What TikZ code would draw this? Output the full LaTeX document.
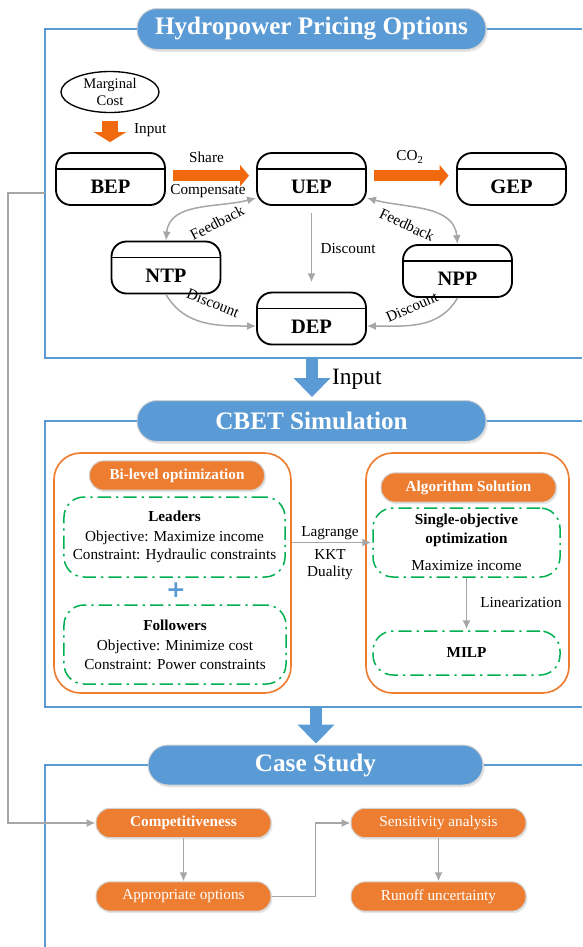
\documentclass[tikz,border=0pt]{standalone}
\usepackage{fontspec}
\setmainfont{Liberation Serif}
\newfontfamily\plusfont{DejaVu Sans}
\usetikzlibrary{shapes.geometric,arrows.meta,shadows}
\definecolor{pillblue}{RGB}{91,155,213}
\definecolor{tagorange}{RGB}{237,125,49}
\definecolor{arroworange}{RGB}{240,105,15}
\definecolor{dashgreen}{RGB}{0,176,80}
\definecolor{linkgray}{RGB}{166,166,166}
\newcommand{\price}[3]{\node[price] (#1) at (#2) {#3}}
\newcommand{\chip}[4]{\node[chip,#4] (#1) at (#2) {#3}}
\newcommand{\note}[3]{\node[lbl,rotate=#2] at (#1) {#3}}
\tikzset{
  title/.style={fill=pillblue, draw=gray!35, line width=0.3mm, rounded corners=6mm,
    minimum width=104.7mm, minimum height=12.3mm, text=white,
    font=\fontsize{21.5}{24}\selectfont\bfseries,
    drop shadow={shadow xshift=0.5mm, shadow yshift=-0.7mm, opacity=0.2}},
  frame/.style={draw=pillblue, line width=0.5mm},
  price/.style={draw, line width=0.55mm, rounded corners=4.5mm,
    minimum width=32.7mm, minimum height=15.6mm, text height=8.9mm, text depth=0pt,
    font=\fontsize{17.5}{20}\selectfont\bfseries,
    path picture={\draw[line width=0.55mm]
      ([yshift=-4.8mm]path picture bounding box.north west) --
      ([yshift=-4.8mm]path picture bounding box.north east);}},
  lbl/.style={font=\fontsize{13}{15}\selectfont},
  chip/.style={fill=tagorange, draw=gray!35, line width=0.3mm, rounded corners=4.2mm,
    minimum width=52.5mm, minimum height=8.8mm, text=white,
    font=\fontsize{13}{15}\selectfont,
    drop shadow={shadow xshift=0.4mm, shadow yshift=-0.6mm, opacity=0.2}},
  group/.style={draw=tagorange, line width=0.5mm, rounded corners=8mm},
  dashbox/.style={draw=dashgreen, line width=0.45mm, rounded corners=6mm,
    dash pattern=on 4mm off 1.5mm on 0.7mm off 1.5mm, align=center,
    font=\fontsize{13}{16}\selectfont},
  orangearrow/.style={draw=arroworange, line width=3.45mm,
    -{Triangle[width=6.3mm,length=2.7mm]}},
  bluearrow/.style={draw=pillblue, line width=3.6mm,
    -{Triangle[width=10.8mm,length=5.7mm]}},
  link/.style={draw=linkgray, line width=0.45mm, -{Latex[length=2.7mm,width=2.4mm]}},
  twoway/.style={link, {Latex[length=2.7mm,width=2.4mm]}-{Latex[length=2.7mm,width=2.4mm]}}
}
\begin{document}
\begin{tikzpicture}[x=0.3mm,y=-0.3mm]
\useasboundingbox (0,0) rectangle (582,947);
%Pricing options
	\node[title] (hpo) at (311.5,29) {Hydropower Pricing Options};
	\draw[frame] (hpo.west) -| (45,358) -- (582,358);
	\draw[frame] (hpo.east) -- (582,29);
	\node[draw, line width=0.4mm, ellipse, minimum width=29.4mm, minimum height=12.3mm,
	  inner sep=0pt, align=center, font=\fontsize{12.5}{15}\selectfont] (mc) at (110,92) {Marginal\\Cost};
	\price{bep}{110.5,179}{BEP};
	\price{uep}{311.5,179}{UEP};
	\price{gep}{511.5,179}{GEP};
	\price{ntp}{166,267.5}{NTP};
	\price{npp}{457.5,271}{NPP};
	\price{dep}{311.5,318.5}{DEP};
%Orange arrows
	\draw[draw=arroworange, line width=4.8mm, -{Triangle[width=9.6mm,length=3mm]},
	  shorten <=2.25mm, shorten >=3mm] (mc) -- (mc |- bep.north);
	\node[lbl, anchor=west] at (130,130) {Input};
	\draw[orangearrow, shorten <=2.25mm, shorten >=2.1mm]
	  ([yshift=1mm]bep.east) -- ([yshift=1mm]uep.west);
	\note{206.5,157}{0}{Share};
	\note{208,191}{0}{Compensate};
	\draw[orangearrow, shorten <=2.1mm, shorten >=2.25mm]
	  ([yshift=1mm]uep.east) -- ([yshift=1mm]gep.west);
	\note{410,157}{0}{CO\textsubscript{2}};
%Gray links
	\draw[link, shorten <=2.1mm, shorten >=2.8mm] (uep) -- (dep);
	\note{348,249}{0}{Discount};
	\draw[twoway] (ntp.north) to[out=85,in=195] ([yshift=-5.7mm]uep.west);
	\note{217,223}{27}{Feedback};
	\draw[twoway] ([yshift=-5.7mm]uep.east) to[out=-15,in=95] (npp.north);
	\note{407,225}{-25}{Feedback};
	\draw[link] (ntp.south) to[out=-60,in=180] ([yshift=-2.25mm]dep.west);
	\note{213,303}{-22}{Discount};
	\draw[link] (npp.south) to[out=-120,in=0] ([yshift=-2.25mm]dep.east);
	\note{412,307}{24}{Discount};
%CBET simulation
	\coordinate (f1) at (312,358);
	\node[title] (cbet) at (311.5,421) {CBET Simulation};
	\draw[bluearrow, shorten >=0.9mm] (f1) -- (f1 |- cbet.north);
	\node[font=\fontsize{20}{24}\selectfont, anchor=west] at (328,379) {Input};
	\draw[frame] (cbet.west) -| (45,707) -- (582,707);
	\draw[frame] (cbet.east) -- (582,421);
	\node[group, minimum width=71.1mm, minimum height=72mm] (bilevel) at (172.5,573) {};
	\node[group, minimum width=60.9mm, minimum height=72mm] (algo) at (467.5,573) {};
	\chip{bltag}{177,475.5}{\bfseries Bi-level optimization}{};
	\chip{algtag}{468.5,487.5}{\bfseries Algorithm Solution}{};
	\node[dashbox, minimum width=66.3mm, minimum height=24mm] (lead) at (174.5,537)
	  {\textbf{Leaders}\\[1pt] Objective: Maximize income\\ Constraint: Hydraulic constraints};
	\node[text=pillblue, font=\fontsize{20}{20}\plusfont\bfseries] (plus) at (176,590) {+};
	\node[dashbox, minimum width=66.6mm, minimum height=23.7mm] (follow) at (175,644.5)
	  {\textbf{Followers}\\[1pt] Objective: Minimize cost\\ Constraint: Power constraints};
	\node[dashbox, minimum width=56.1mm, minimum height=20.7mm] (single) at (466.5,542.5)
	  {\fontsize{13}{13.6}\selectfont\textbf{Single-objective}\\ \textbf{optimization}\\[7pt] Maximize income};
	\node[dashbox, minimum width=56.1mm, minimum height=13.2mm] (milp) at (466.5,653) {\textbf{MILP}};
	\draw[link, shorten >=0.3mm] (bilevel.east |- single.west) -- (single.west);
	\note{330,533}{0}{Lagrange};
	\note{330,555}{0}{KKT};
	\note{330,573}{0}{Duality};
	\draw[link, shorten >=0.3mm] (single) -- (milp);
	\note{521,603}{0}{Linearization};
%Case study
	\coordinate (f2) at (316,707);
	\node[title, minimum width=100.5mm, minimum height=12mm] (case) at (315.5,765) {Case Study};
	\draw[bluearrow, shorten >=0.3mm] (f2) -- (f2 |- case.north);
	\draw[frame] (case.west) -| (45,947);
	\draw[frame] (case.east) -- (582,765);
	\chip{comp}{183.5,823}{\bfseries Competitiveness}{};
	\chip{appr}{183.5,896.5}{Appropriate options}{};
	\chip{sens}{438.5,823}{Sensitivity analysis}{};
	\chip{runoff}{438.5,896.5}{Runoff uncertainty}{};
	\draw[link] (comp) -- (appr);
	\draw[link] (sens) -- (runoff);
	\draw[link] (appr.east) -- ++(44,0) |- (sens.west);
%Feedback line
	\coordinate (fb) at (45,193);
	\draw[link] (fb) -- (8,193) |- (comp.west);
\end{tikzpicture}
\end{document}
